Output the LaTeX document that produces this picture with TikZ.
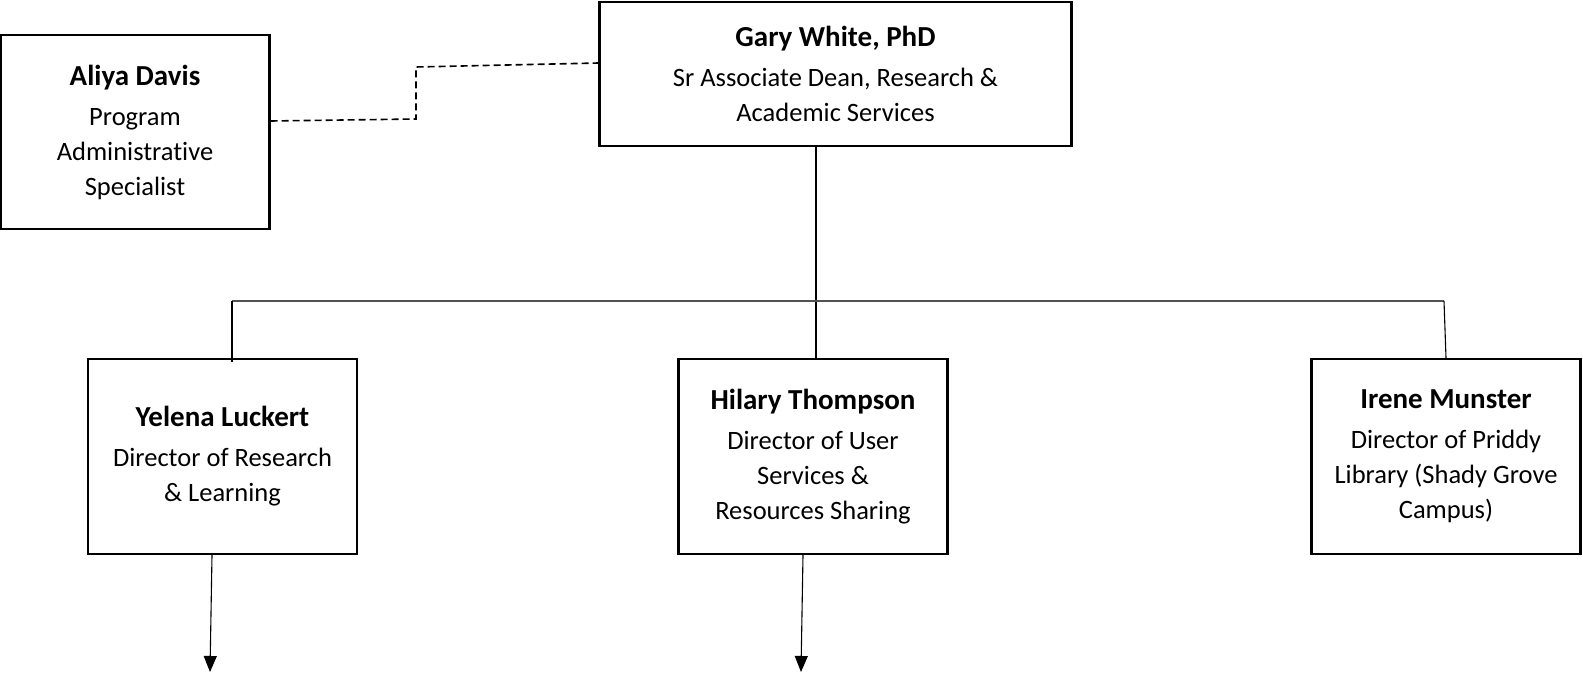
\documentclass[tikz,border=0pt]{standalone}
\usepackage{fontspec}
\setmainfont[Ligatures=NoCommon]{Carlito}
\usetikzlibrary{arrows.meta}
\begin{document}
\begin{tikzpicture}[x=1pt,y=-1pt,
  box/.style={draw,line width=2.4pt,align=center,inner sep=0pt,
    font=\fontsize{26.5}{35}\selectfont},
  conn/.style={line width=1.1pt},
  dashlink/.style={line width=1.6pt,dash pattern=on 7pt off 4pt},
  bus/.style={line width=1.6pt,draw=black!68},
  arr/.style={line width=1.1pt,-{Triangle[width=13pt,length=16pt]}}]
\useasboundingbox (0,0) rectangle (1583,674);
\newcommand{\nm}[1]{{\fontsize{29}{35}\selectfont\bfseries #1}\\[5pt]}
\node[box,minimum width=472pt,minimum height=144pt] (gary) at (835.5,74)
  {\nm{Gary White, PhD}Sr Associate Dean, Research \&\\Academic Services};
\node[box,minimum width=269pt,minimum height=194pt] (aliya) at (135,132)
  {\nm{Aliya Davis}Program\\Administrative\\Specialist};
\node[box,minimum width=269pt,minimum height=195pt] (yelena) at (222.5,456.5)
  {\nm{Yelena Luckert}Director of Research\\\& Learning};
\node[box,minimum width=269pt,minimum height=195pt] (hilary) at (813,456.5)
  {\nm{Hilary Thompson}Director of User\\Services \&\\Resources Sharing};
\node[box,minimum width=269pt,minimum height=195pt] (irene) at (1446,456.5)
  {\nm{Irene Munster}Director of Priddy\\Library (Shady Grove\\Campus)};
% dashed link
\coordinate (d1) at (416,119);
\coordinate (d2) at (416,67);
\draw[dashlink]
  ([yshift=11pt]aliya.east) -- (d1) -- (d2) -- ([yshift=11pt]gary.west);
% tree
\coordinate (gv) at (816,150);
\draw[conn] (gary.south -| gv) -- (gv |- hilary.north);
\coordinate (busL) at (232,301);
\coordinate (busR) at (1444,301);
\coordinate (dropL) at (232,362);
\draw[bus] (busL) -- (busR);
\draw[conn] (busL) -- (dropL);
\draw[conn] (busR) -- (irene.north);
% arrows
\coordinate (ya) at (210,672);
\coordinate (ha) at (801,672);
\draw[arr] ([xshift=-10.5pt]yelena.south) -- (ya);
\draw[arr] ([xshift=-10pt]hilary.south) -- (ha);
\end{tikzpicture}
\end{document}
